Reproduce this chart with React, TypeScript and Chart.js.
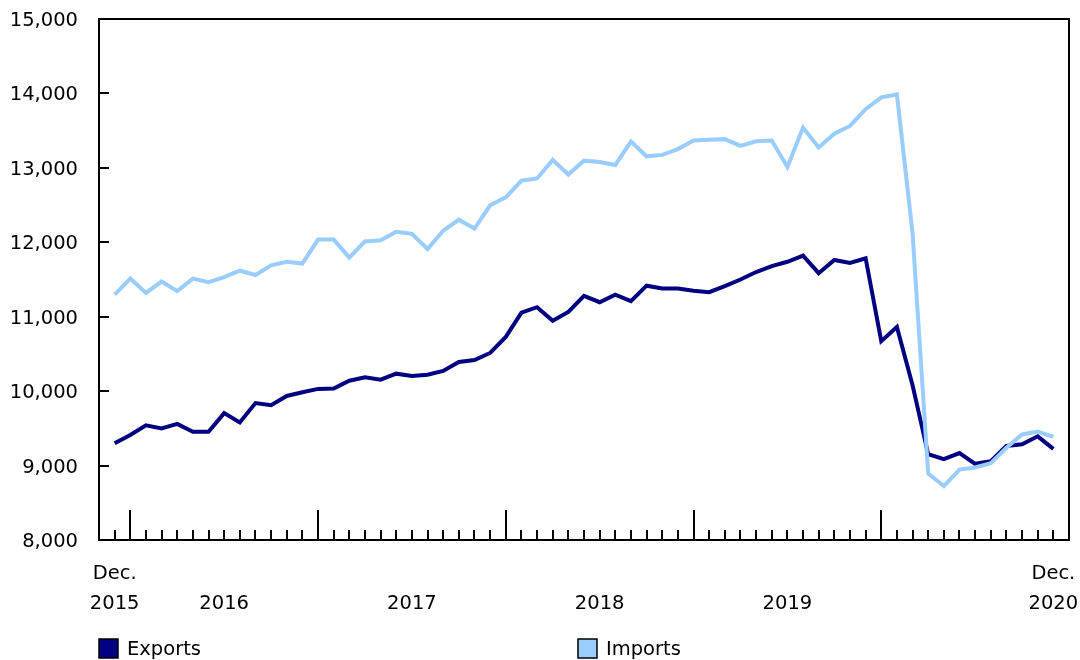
import React, { useEffect, useRef } from 'react';
import { Chart, registerables } from 'chart.js';

Chart.register(...registerables);

// Months from Dec. 2015 (index 0) to Dec. 2020 (index 60)
const exportsValues = [
  9300, 9410, 9540, 9500, 9560, 9455, 9455, 9705, 9580, 9840, 9810, 9935, 9985,
  10030, 10035, 10140, 10185, 10155, 10235, 10205, 10220, 10272, 10392, 10417, 10513,
  10729, 11055, 11128, 10945, 11065, 11281, 11195, 11296, 11210, 11417, 11378, 11378,
  11348, 11329, 11411, 11500, 11600, 11680, 11738, 11820, 11585, 11762, 11723, 11786,
  10671, 10863, 10080, 9153, 9086, 9168, 9024, 9058, 9264, 9287, 9393, 9225,
];

const importsValues = [
  11296, 11512, 11320, 11473, 11344, 11512, 11464, 11531, 11618, 11560, 11690, 11738, 11714,
  12036, 12036, 11796, 12012, 12027, 12142, 12113, 11910, 12155, 12304, 12184, 12497,
  12603, 12829, 12858, 13107, 12911, 13097, 13078, 13039, 13352, 13155, 13174, 13252,
  13367, 13376, 13386, 13295, 13357, 13367, 13011, 13539, 13275, 13458, 13563, 13789,
  13947, 13986, 12121, 8893, 8725, 8946, 8975, 9033, 9240, 9418, 9457, 9385,
];

const seriesLabels = ['Exports', 'Imports'];
const seriesColors = ['#000080', '#99ccff'];

// x tick labels (month index -> label lines)
const xLabelIdx = [0, 7, 19, 31, 43, 60];
const xLabelText = [
  ['Dec.', '2015'],
  ['', '2016'],
  ['', '2017'],
  ['', '2018'],
  ['', '2019'],
  ['Dec.', '2020'],
];
// January positions get long tick marks
const yearStartIdx = [1, 13, 25, 37, 49];
const yTickValues = [8000, 9000, 10000, 11000, 12000, 13000, 14000, 15000];

const FONT = 'DejaVu Sans';
const FONT_SIZE = 19.5;

const framePlugin = {
  id: 'frameTicksLegend',
  afterDraw(chart: any) {
    const { ctx, chartArea: a, scales } = chart;
    const xs = scales.x;
    const ys = scales.y;
    ctx.save();
    ctx.strokeStyle = '#000';
    ctx.lineWidth = 2;
    ctx.strokeRect(a.left, a.top, a.right - a.left, a.bottom - a.top);
    ctx.beginPath();
    for (let i = 0; i < exportsValues.length; i++) {
      const px = Math.round(xs.getPixelForValue(i));
      const len = yearStartIdx.includes(i) ? 30 : 10;
      ctx.moveTo(px, a.bottom);
      ctx.lineTo(px, a.bottom - len);
    }
    yTickValues.forEach((v) => {
      const py = Math.round(ys.getPixelForValue(v));
      ctx.moveTo(a.left, py);
      ctx.lineTo(a.left + 10, py);
    });
    ctx.stroke();

    // legend
    const legendX = [99, 578];
    const boxTop = 639;
    const box = 19;
    ctx.font = `${FONT_SIZE}px "${FONT}"`;
    ctx.textBaseline = 'middle';
    ctx.textAlign = 'left';
    chart.data.datasets.forEach((ds: any, k: number) => {
      const x0 = legendX[k];
      ctx.fillStyle = ds.borderColor;
      ctx.fillRect(x0, boxTop, box, box);
      ctx.lineWidth = 1.5;
      ctx.strokeStyle = '#000';
      ctx.strokeRect(x0, boxTop, box, box);
      ctx.fillStyle = '#000';
      ctx.fillText(ds.label, x0 + 28, boxTop + box / 2 + 1);
    });
    ctx.restore();
  },
};

const zeroPadding = (s: any) => {
  s.paddingTop = 0;
  s.paddingBottom = 0;
  s.paddingLeft = 0;
  s.paddingRight = 0;
};

export default function App() {
  const canvasRef = useRef<HTMLCanvasElement | null>(null);

  useEffect(() => {
    document.body.style.margin = '0';
    const canvas = canvasRef.current;
    if (!canvas) return;
    Chart.defaults.font.family = FONT;
    const chart = new Chart(canvas, {
      type: 'line',
      data: {
        datasets: [
          {
            label: seriesLabels[0],
            data: exportsValues.map((v, i) => ({ x: i, y: v })),
            borderColor: seriesColors[0],
            backgroundColor: seriesColors[0],
            borderWidth: 4,
            pointRadius: 0,
            tension: 0,
            order: 1,
          },
          {
            label: seriesLabels[1],
            data: importsValues.map((v, i) => ({ x: i, y: v })),
            borderColor: seriesColors[1],
            backgroundColor: seriesColors[1],
            borderWidth: 4,
            pointRadius: 0,
            tension: 0,
            order: 0,
          },
        ],
      },
      options: {
        animation: false,
        responsive: false,
        maintainAspectRatio: false,
        devicePixelRatio: 1,
        layout: { padding: { top: 19, right: 11, left: 0, bottom: 0 } },
        plugins: {
          legend: { display: false },
          tooltip: { enabled: false },
        },
        scales: {
          x: {
            type: 'linear',
            min: -1,
            max: 61,
            afterBuildTicks: (s: any) => {
              s.ticks = xLabelIdx.map((v) => ({ value: v }));
            },
            afterFit: (s: any) => {
              s.height = 120;
              zeroPadding(s);
            },
            grid: { display: false },
            border: { display: false },
            ticks: {
              autoSkip: false,
              maxRotation: 0,
              minRotation: 0,
              padding: 11,
              color: '#000',
              font: { family: FONT, size: FONT_SIZE, lineHeight: 1.55 },
              callback: (v: any) => {
                const k = xLabelIdx.indexOf(Number(v));
                return k >= 0 ? xLabelText[k] : '';
              },
            },
          },
          y: {
            type: 'linear',
            min: 8000,
            max: 15000,
            afterFit: (s: any) => {
              s.width = 99;
              zeroPadding(s);
            },
            grid: { display: false },
            border: { display: false },
            ticks: {
              stepSize: 1000,
              padding: 13,
              labelOffset: 2,
              color: '#000',
              font: { family: FONT, size: FONT_SIZE },
              callback: (v: any) => Number(v).toLocaleString('en-US'),
            },
          },
        },
      },
      plugins: [framePlugin],
    });
    return () => chart.destroy();
  }, []);

  return (
    <div style={{ width: 1080, height: 660 }}>
      <canvas ref={canvasRef} width={1080} height={660} style={{ display: 'block' }} />
    </div>
  );
}
